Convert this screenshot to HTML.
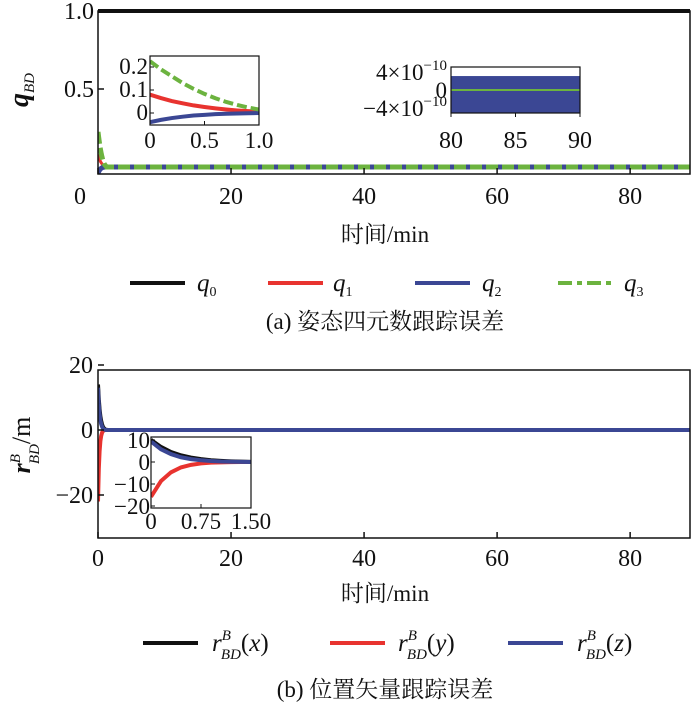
<!DOCTYPE html>
<html><head><meta charset="utf-8">
<style>
body{margin:0;background:#fff;}
svg{display:block;font-family:"Liberation Serif","Noto Serif CJK SC",serif;}
text{fill:#111;}
</style></head>
<body>
<svg id="fig" width="700" height="703" viewBox="0 0 700 703" xmlns="http://www.w3.org/2000/svg">
<defs>
<clipPath id="cA"><rect x="98" y="7" width="592" height="167"/></clipPath>
<clipPath id="cAi"><rect x="150" y="56" width="109" height="69"/></clipPath>
<clipPath id="cAj"><rect x="451" y="67" width="129" height="46"/></clipPath>
<clipPath id="cB"><rect x="98" y="370" width="592" height="168"/></clipPath>
<clipPath id="cBi"><rect x="151" y="437" width="100" height="71"/></clipPath>
</defs>
<g id="layer"></g>
<text x="385" y="242" font-size="23" text-anchor="middle">时间/min</text>
<text x="385" y="329" font-size="23" text-anchor="middle">(a) 姿态四元数跟踪误差</text>
<text transform="translate(28,90) rotate(-90)" font-size="28" font-weight="bold" font-style="italic" text-anchor="middle">q<tspan font-size="15" dy="6" font-weight="normal">BD</tspan></text>
<text x="385" y="601" font-size="23" text-anchor="middle">时间/min</text>
<text x="385" y="697" font-size="23" text-anchor="middle">(b) 位置矢量跟踪误差</text>
<text transform="translate(30,445) rotate(-90)" font-size="26" text-anchor="middle"><tspan font-weight="bold" font-style="italic">r</tspan><tspan font-size="15" font-style="italic" dy="-10">B</tspan><tspan font-size="15" font-style="italic" dx="-10" dy="19">BD</tspan><tspan dy="-9">/m</tspan></text>
<g>
<line x1="130" y1="283" x2="185" y2="283" stroke="#111" stroke-width="4"/>
<text x="197" y="291" font-size="25" font-style="italic">q<tspan font-size="14" dy="5" font-style="normal">0</tspan></text>
<line x1="268" y1="283" x2="323" y2="283" stroke="#e8332f" stroke-width="4"/>
<text x="333" y="291" font-size="25" font-style="italic">q<tspan font-size="14" dy="5" font-style="normal">1</tspan></text>
<line x1="415" y1="283" x2="470" y2="283" stroke="#3b4794" stroke-width="4"/>
<text x="482" y="291" font-size="25" font-style="italic">q<tspan font-size="14" dy="5" font-style="normal">2</tspan></text>
<line x1="558" y1="283" x2="613" y2="283" stroke="#6cb33f" stroke-width="4" stroke-dasharray="14,5,5,5"/>
<text x="624" y="291" font-size="25" font-style="italic">q<tspan font-size="14" dy="5" font-style="normal">3</tspan></text>
</g>
<g>
<line x1="143" y1="643" x2="198" y2="643" stroke="#111" stroke-width="4"/>
<text x="212" y="651" font-size="25" font-style="italic">r<tspan font-size="15" dy="-11">B</tspan><tspan font-size="15" dx="-10" dy="19">BD</tspan><tspan dy="-8" font-style="normal">(</tspan>x<tspan font-style="normal">)</tspan></text>
<line x1="330" y1="643" x2="385" y2="643" stroke="#e8332f" stroke-width="4"/>
<text x="398" y="651" font-size="25" font-style="italic">r<tspan font-size="15" dy="-11">B</tspan><tspan font-size="15" dx="-10" dy="19">BD</tspan><tspan dy="-8" font-style="normal">(</tspan>y<tspan font-style="normal">)</tspan></text>
<line x1="508" y1="643" x2="563" y2="643" stroke="#3b4794" stroke-width="4"/>
<text x="577" y="651" font-size="25" font-style="italic">r<tspan font-size="15" dy="-11">B</tspan><tspan font-size="15" dx="-10" dy="19">BD</tspan><tspan dy="-8" font-style="normal">(</tspan>z<tspan font-style="normal">)</tspan></text>
</g>
</svg>
<script>
const tTrans = [0,0.1,0.2,0.3,0.4,0.5,0.6,0.7,0.8,0.9,1.0];
const q0 = [1,1,1,1,1,1,1,1,1,1,1];
const q1 = [0.08,0.065,0.052,0.042,0.033,0.026,0.02,0.015,0.011,0.008,0.006];
const q2 = [-0.04,-0.03,-0.022,-0.016,-0.011,-0.008,-0.005,-0.003,-0.002,-0.001,0];
const q3 = [0.225,0.19,0.16,0.13,0.105,0.083,0.064,0.048,0.035,0.024,0.015];
const tEnd = 89;
const qTicksX = [0,20,40,60,80];
const qTicksY = [0.5,1.0];
const qTickLabelsY = ["0.5","1.0"];
const inA_ticksX = [0,0.5,1.0];
const inA_labelsX = ["0","0.5","1.0"];
const inA_ticksY = [0,0.1,0.2];
const inA_labelsY = ["0","0.1","0.2"];
const inB_ticksX = [80,85,90];
const inB_ticksY = [-4e-10,0,4e-10];
const bandMax = 3.1e-10, bandMin = -5.2e-10;
const tPos = [0,0.15,0.3,0.45,0.6,0.75,0.9,1.05,1.2,1.35,1.5];
const rx = [14,9.5,6.3,4.2,2.8,1.8,1.1,0.7,0.4,0.2,0.1];
const ry = [-22,-12,-6.5,-3.4,-1.8,-0.9,-0.4,-0.2,-0.1,0,0];
const rz = [13,8,5,3,1.8,1.1,0.6,0.3,0.15,0.05,0];
const rTicksX = [0,20,40,60,80];
const rTicksY = [-20,0,20];
const inC_ticksX = [0,0.75,1.5];
const inC_labelsX = ["0","0.75","1.50"];
const inC_ticksY = [-20,-10,0,10];

const NS="http://www.w3.org/2000/svg";
const layer=document.getElementById('layer');
function mk(tag,attrs,parent){const e=document.createElementNS(NS,tag);for(const k in attrs)e.setAttribute(k,attrs[k]);(parent||layer).appendChild(e);return e;}
function lin(d0,d1,r0,r1){return v=>r0+(v-d0)/(d1-d0)*(r1-r0);}
function pathD(xs,ys,X,Y){return xs.map((x,i)=>(i?'L':'M')+X(x).toFixed(2)+','+Y(ys[i]).toFixed(2)).join(' ');}
function txt(x,y,s,size,anchor,parent){const t=mk('text',{x:x,y:y,'font-size':size,'text-anchor':anchor},parent);t.textContent=s;return t;}
// settled tail: after the transient, value settles to steady state (0 for errors, last for q0)
function extend(ts,vs,settle){const last=settle===undefined?vs[vs.length-1]:settle;return [ts.concat([ts[ts.length-1]+0.3,tEnd]), vs.concat([last,last])];}

// ===== Chart A =====
const XA=lin(0,89,98,690), YA=lin(0,1,167,11);
const gA=mk('g',{'clip-path':'url(#cA)'});


let e=extend(tTrans,q0);
const lq0=mk('path',{d:pathD(e[0],e[1],XA,YA),stroke:'#111','stroke-width':4,fill:'none'},gA);


e=extend(tTrans,q1,0);
const lq1=mk('path',{d:pathD(e[0],e[1],XA,YA),stroke:'#e8332f','stroke-width':3,fill:'none'},gA);


e=extend(tTrans,q2,0);
const lq2=mk('path',{d:pathD(e[0],e[1],XA,YA),stroke:'#3b4794','stroke-width':5,fill:'none'},gA);


e=extend(tTrans,q3,0);
const lq3=mk('path',{d:pathD(e[0],e[1],XA,YA),stroke:'#6cb33f','stroke-width':5,fill:'none','stroke-dasharray':'12,4'},gA);


const frA=mk('rect',{x:98,y:11,width:592,height:163,fill:'none',stroke:'#111','stroke-width':1.5});


qTicksX.forEach(v=>{mk('line',{x1:XA(v),y1:174,x2:XA(v),y2:168,stroke:'#111','stroke-width':1.5});
 const t=txt(v===0?80:XA(v),204,String(v),24,'middle');
 
 });
qTicksY.forEach((v,i)=>{mk('line',{x1:98,y1:YA(v),x2:104,y2:YA(v),stroke:'#111','stroke-width':1.5});
 const t=txt(94,YA(v)+8,qTickLabelsY[i],24,'end');
 
 });

const XI=lin(0,1,150,259), YI=lin(0,0.2,113,67);
const gI=mk('g',{'clip-path':'url(#cAi)'});


const i1=mk('path',{d:pathD(tTrans,q1,XI,YI),stroke:'#e8332f','stroke-width':4,fill:'none'},gI);


const i2=mk('path',{d:pathD(tTrans,q2,XI,YI),stroke:'#3b4794','stroke-width':4,fill:'none'},gI);


const i3=mk('path',{d:pathD(tTrans,q3,XI,YI),stroke:'#6cb33f','stroke-width':4,fill:'none','stroke-dasharray':'10,4'},gI);


const fI=mk('rect',{x:150,y:56,width:109,height:69,fill:'none',stroke:'#111','stroke-width':1.2});


inA_ticksX.forEach((v,i)=>{mk('line',{x1:XI(v),y1:125,x2:XI(v),y2:121,stroke:'#111'});
 const t=txt(XI(v),148,inA_labelsX[i],23,'middle');
 
 });
inA_ticksY.forEach((v,i)=>{mk('line',{x1:150,y1:YI(v),x2:154,y2:YI(v),stroke:'#111'});
 const t=txt(148,YI(v)+7,inA_labelsY[i],23,'end');
 
 });

const XJ=lin(80,90,451,580), YJ=lin(-4e-10,4e-10,108,72);
const gJ=mk('g',{'clip-path':'url(#cAj)'});


const band=mk('rect',{x:XJ(80),y:YJ(bandMax),width:XJ(90)-XJ(80),height:YJ(bandMin)-YJ(bandMax),fill:'#3b4794'},gJ);


const gl=mk('line',{x1:XJ(80),y1:YJ(0),x2:XJ(90),y2:YJ(0),stroke:'#6cb33f','stroke-width':2},gJ);


const fJ=mk('rect',{x:451,y:67,width:129,height:46,fill:'none',stroke:'#111','stroke-width':1.2});


inB_ticksX.forEach(v=>{mk('line',{x1:XJ(v),y1:113,x2:XJ(v),y2:117,stroke:'#111'});
 const t=txt(XJ(v),148,String(v),24,'middle');
 
 });
inB_ticksY.forEach(v=>{
 const t=mk('text',{x:447,y:YJ(v)+8,'font-size':23,'text-anchor':'end'});
 
 
 if(v===0){t.textContent='0';}
 else{const m=Math.round(v/1e-10);t.textContent=(m<0?'−':'')+Math.abs(m)+'×10';
  const s=mk('tspan',{dy:-10,'font-size':15},t);s.textContent='−10';}
});

// ===== Chart B =====
const XB=lin(0,89,98,690), YB=lin(-20,20,495,365);
const gB=mk('g',{'clip-path':'url(#cB)'});


const pB=[[rx,'#111','line-rx'],[ry,'#e8332f','line-ry'],[rz,'#3b4794','line-rz']];
pB.forEach(p=>{const ex=extend(tPos.map(t=>t/1.5*1.2),p[0],0);
 const l=mk('path',{d:pathD(ex[0],ex[1],XB,YB),stroke:p[1],'stroke-width':4,fill:'none'},gB);
 
 });
const frB=mk('rect',{x:98,y:370,width:592,height:168,fill:'none',stroke:'#111','stroke-width':1.5});


rTicksX.forEach(v=>{mk('line',{x1:XB(v),y1:538,x2:XB(v),y2:532,stroke:'#111','stroke-width':1.5});
 const t=txt(v===0?98:XB(v),566,String(v),24,'middle');
 
 });
rTicksY.forEach(v=>{mk('line',{x1:98,y1:YB(v),x2:104,y2:YB(v),stroke:'#111','stroke-width':1.5});
 const t=txt(93,YB(v)+8,(v<0?'−':'')+Math.abs(v),24,'end');
 
 });

const XK=lin(0,1.5,151,251), YK=lin(-20,10,506,440);
const bgK=mk('rect',{x:151,y:437,width:100,height:71,fill:'#fff'});


const gK=mk('g',{'clip-path':'url(#cBi)'});


pB.forEach(p=>{const l=mk('path',{d:pathD(tPos,p[0].map(v=>v*0.72),XK,YK),stroke:p[1],'stroke-width':4,fill:'none'},gK);
 
 });
const fK=mk('rect',{x:151,y:437,width:100,height:71,fill:'none',stroke:'#111','stroke-width':1.2});


inC_ticksX.forEach((v,i)=>{mk('line',{x1:XK(v),y1:508,x2:XK(v),y2:504,stroke:'#111'});
 const t=txt(XK(v),529,inC_labelsX[i],23,'middle');
 
 });
inC_ticksY.forEach(v=>{mk('line',{x1:151,y1:YK(v),x2:155,y2:YK(v),stroke:'#111'});
 const t=txt(150,YK(v)+8,(v<0?'−':'')+Math.abs(v),23,'end');
 
 });
</script>
</body></html>
